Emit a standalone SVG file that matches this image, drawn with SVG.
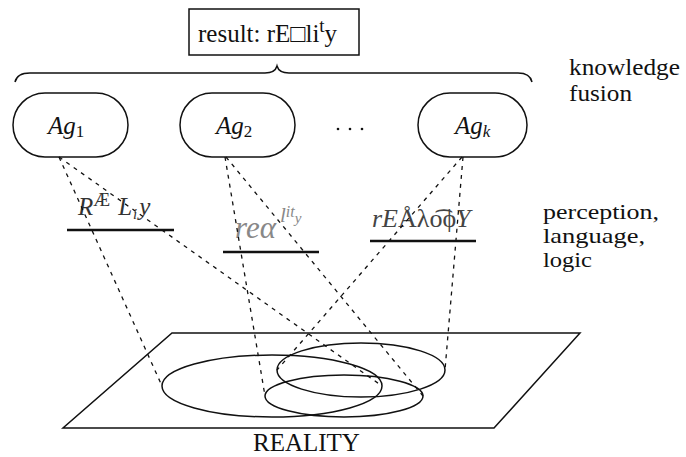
<svg xmlns="http://www.w3.org/2000/svg" width="686" height="457" viewBox="0 0 686 457">
<style>
.t{font-family:"Liberation Serif","Times New Roman",serif;fill:#111;}
.it{font-style:italic;}
.node{fill:none;stroke:#111;stroke-width:1.5;}
.dash{fill:none;stroke:#111;stroke-width:1.3;stroke-dasharray:4 5;}
.ul{stroke:#111;stroke-width:2.5;}
.shape{fill:none;stroke:#111;stroke-width:1.5;}
</style>
<rect width="686" height="457" fill="#fff"/>

<g id="result">
<rect class="node" x="189" y="9" width="170" height="46"/>
<text class="t" x="198" y="42" font-size="25">result: rE□li<tspan font-size="19" dy="-10">t</tspan><tspan dy="10">y</tspan></text>
</g>

<g id="brace">
<path class="shape" stroke-width="2" d="M15,82 Q17,73 30,73 L265,73 Q275,73 277,66 Q279,73 289,73 L518,73 Q530,73 532,82"/>
</g>

<g id="knowledge-label">
<text class="t" x="569" y="75" font-size="24" textLength="111" lengthAdjust="spacingAndGlyphs">knowledge</text>
<text class="t" x="569" y="101" font-size="24" textLength="63" lengthAdjust="spacingAndGlyphs">fusion</text>
</g>

<g id="ag1">
<rect class="node" x="13" y="93" width="115" height="64" rx="32" ry="32"/>
<text class="t" x="48" y="134" font-size="25"><tspan class="it">Ag</tspan><tspan font-size="17" dy="3">1</tspan></text>
</g>
<g id="ag2">
<rect class="node" x="180" y="93" width="115" height="64" rx="32" ry="32"/>
<text class="t" x="216" y="134" font-size="25"><tspan class="it">Ag</tspan><tspan font-size="17" dy="3">2</tspan></text>
</g>
<g id="dots">
<circle cx="338" cy="129" r="1.3" fill="#111"/>
<circle cx="350" cy="129" r="1.3" fill="#111"/>
<circle cx="362" cy="129" r="1.3" fill="#111"/>
</g>
<g id="agk">
<rect class="node" x="418" y="93" width="109" height="64" rx="32" ry="32"/>
<text class="t" x="455" y="134" font-size="25"><tspan class="it">Ag</tspan><tspan class="it" font-size="17" dy="3">k</tspan></text>
</g>

<g id="label1">
<text class="t" x="78" y="215" font-size="25" style="fill:#333"><tspan class="it">R</tspan><tspan font-size="19" dy="-9">Æ</tspan><tspan class="it" dy="9" dx="8">L</tspan><tspan class="it" font-size="15" dy="4" dx="1">i</tspan><tspan class="it" dy="-4" dx="2">y</tspan></text>
<line class="ul" x1="67" y1="230" x2="174" y2="230"/>
</g>
<g id="label2">
<text class="t it" x="235" y="238" font-size="31" style="fill:#888">reα<tspan font-size="21" dy="-16" dx="4">l</tspan><tspan font-size="16" dy="-5">it</tspan><tspan font-size="15" dy="6">y</tspan></text>
<line class="ul" x1="223" y1="252" x2="319" y2="252"/>
</g>
<g id="label3">
<text class="t" x="372" y="227" font-size="26" style="fill:#444"><tspan class="it">rE</tspan>Åλo͡ϕ<tspan class="it">Y</tspan></text>
<line class="ul" x1="370" y1="241" x2="476" y2="241"/>
</g>

<g id="perception-label">
<text class="t" x="543" y="219" font-size="21" textLength="116" lengthAdjust="spacingAndGlyphs">perception,</text>
<text class="t" x="543" y="243" font-size="21" textLength="102" lengthAdjust="spacingAndGlyphs">language,</text>
<text class="t" x="543" y="267" font-size="21" textLength="49" lengthAdjust="spacingAndGlyphs">logic</text>
</g>

<g id="reality">
<polygon class="shape" points="172,333 580,333 494,428 63,428"/>
<ellipse class="shape" cx="272" cy="386" rx="110" ry="31"/>
<ellipse class="shape" cx="361" cy="370" rx="84" ry="27"/>
<ellipse class="shape" cx="344" cy="396" rx="79" ry="21"/>
<text class="t" x="253" y="451" font-size="25">REALITY</text>
</g>

<g id="connectors">
<line class="dash" x1="59" y1="157" x2="162" y2="386"/>
<line class="dash" x1="59" y1="157" x2="382" y2="386"/>
<line class="dash" x1="225" y1="157" x2="265" y2="396"/>
<line class="dash" x1="226" y1="157" x2="423" y2="396"/>
<line class="dash" x1="463" y1="157" x2="445" y2="370"/>
<line class="dash" x1="462" y1="157" x2="277" y2="370"/>
</g>
</svg>
